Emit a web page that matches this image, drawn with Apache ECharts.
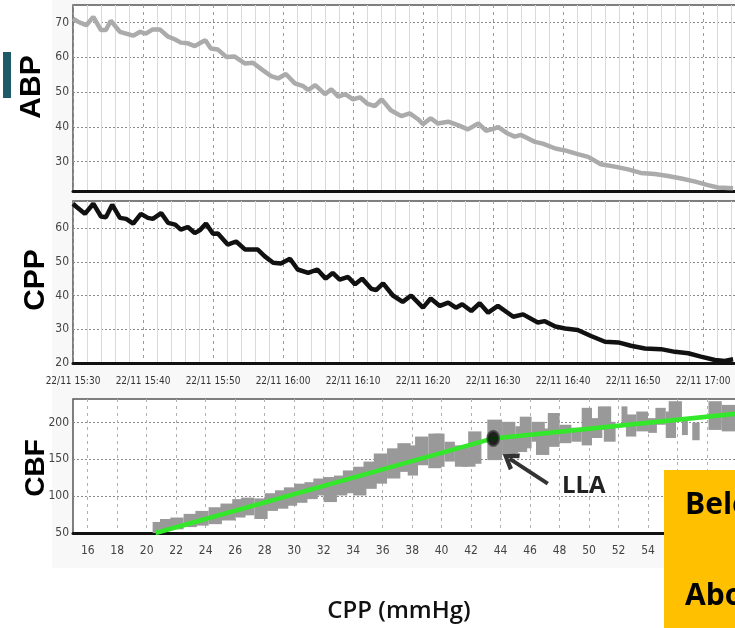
<!DOCTYPE html>
<html><head><meta charset="utf-8">
<script src="https://cdn.jsdelivr.net/npm/echarts@6/dist/echarts.min.js"></script>
<style>html,body{margin:0;padding:0;background:#fff}#c{width:735px;height:628px}</style>
</head><body><div id="c"></div><script>
// minutes after 22/11 15:30
const abpTime=[0,0.7,1.9,2.9,4.0,4.7,5.4,6.7,7.6,8.6,9.6,10.4,11.4,12.4,13.6,14.6,15.4,16.4,17.4,18.1,18.9,19.7,20.7,21.9,23.1,24.6,25.7,27.1,28.3,29.3,30.4,31.7,32.9,33.6,34.6,36.0,36.9,37.9,38.9,40.0,41.0,42.1,43.1,44.1,45.4,46.9,48.1,49.3,50.0,51.1,52.1,53.6,55.0,56.4,57.9,59.0,60.3,60.7,62.1,63.1,64.0,66.0,67.1,68.9,70.4,72.1,73.6,75.4,77.4,79.3,81.1,83.1,85.0,86.9,88.9,90.7,92.1,94.3];
const abpValue=[71.1,70.2,69.2,71.6,67.8,67.8,70.5,67.3,66.8,66.2,67.3,66.8,68.0,68.0,65.9,65.1,64.2,64.0,63.2,64.0,64.9,62.5,62.2,60.1,60.2,58.2,58.4,56.3,54.6,53.9,55.2,52.5,51.7,50.6,52.0,49.4,50.8,48.7,49.4,47.9,48.5,46.6,46.0,47.9,44.8,43.1,43.9,42.2,40.8,42.5,41.0,41.5,40.5,39.3,41.0,38.9,39.6,40.0,38.1,37.2,37.7,35.7,35.2,33.8,33.2,32.2,31.4,29.3,28.6,27.8,26.8,26.5,25.9,25.2,24.3,23.3,22.6,22.4];
const cppTime=[0,0.7,1.7,2.9,4.0,4.7,5.6,6.7,7.6,8.6,9.7,10.7,11.4,12.6,13.6,14.6,15.4,16.4,17.4,18.1,19.0,20.0,20.7,22.1,23.3,24.6,26.4,27.4,28.6,29.7,31.0,32.1,33.6,34.9,36.1,37.1,38.1,39.3,40.3,41.3,42.6,43.3,44.3,45.7,47.1,48.3,50.0,51.1,52.4,53.6,54.7,55.6,56.9,58.1,59.3,60.7,62.9,64.3,66.4,67.4,68.9,70.3,72.1,74.0,76.0,77.9,79.7,81.7,84.0,86.0,87.9,89.7,91.7,93.1,94.3];
const cppValue=[67.2,65.9,64.2,67.2,63.4,63.2,66.9,63.0,62.7,61.3,64.2,63.0,62.7,64.4,61.5,61.0,59.5,60.3,58.5,59.3,61.3,58.3,58.4,55.1,56.0,53.6,53.6,51.6,49.7,49.5,50.9,47.7,46.7,47.7,45.0,46.7,44.7,45.5,43.3,45.0,42.0,41.6,43.6,40.0,38.1,40.0,36.4,39.1,36.9,37.9,36.4,37.4,35.4,37.7,34.9,36.9,33.7,34.4,32.0,32.4,30.8,30.2,29.8,28.0,26.3,26.1,25.1,24.3,24.1,23.3,22.9,21.9,20.9,20.6,21.1];
// CBF samples: CPP range (from-to) and CBF range (low-high) of each block
const cbfCppFrom=[20.4,20.9,21.6,22.5,23.3,24.2,25.0,25.8,26.4,27.3,28.0,28.7,29.3,30.0,30.7,31.3,32.0,32.7,33.3,34.0,34.7,35.4,36.3,37.0,37.7,38.2,39.1,39.5,40.2,40.9,41.4,41.8,43.1,44.1,44.3,45.0,45.3,46.1,46.4,47.2,48.0,48.8,49.5,50.2,50.6,51.0,52.2,52.5,53.2,54.0,54.5,55.2,55.4,56.3,57.0,58.1,59.0];
const cbfCppTo=[21.1,21.7,22.5,23.4,24.2,25.1,26.0,26.7,27.3,28.2,28.9,29.6,30.2,30.9,31.6,32.2,32.9,33.6,34.2,34.9,35.6,36.3,37.2,37.9,38.4,39.1,40.0,40.2,40.9,41.8,42.3,42.7,44.1,45.0,45.2,45.8,46.1,47.0,47.3,48.0,48.8,49.5,50.2,50.9,51.5,51.8,52.6,53.2,54.0,54.6,55.2,55.9,56.3,56.7,57.5,59.0,59.9];
const cbfLow=[50,53,55,58,60,62,67,71,74,69,80,83,87,91,96,101,92,101,104,101,110,117,124,133,128,142,138,140,147,140,140,144,149,156,158,160,165,174,156,167,172,174,169,179,190,174,197,181,188,186,197,179,204,183,176,190,188];
const cbfHigh=[65,69,71,76,80,85,90,96,98,97,104,108,112,117,119,124,126,128,135,140,147,158,165,172,169,181,185,185,174,169,163,188,204,201,179,195,208,201,192,213,197,193,220,206,222,201,222,211,215,206,220,215,229,204,200,229,224];
const fitCpp=[20.6,43.5,60];
const fitCbf=[50,178.5,212];
const llaPoint=[43.5,178.5];
const arrowFrom=[47.2,117], arrowTo=[44.6,151];
const abpTicks=[30,40,50,60,70], cppTicks=[20,30,40,50,60], cbfTicks=[50,100,150,200];
const cbfXTicks=[16,18,20,22,24,26,28,30,32,34,36,38,40,42,44,46,48,50,52,54,56,58];

const zip2=(a,b)=>a.map((v,i)=>[v,b[i]]);
const narrow="'Liberation Sans Narrow','DejaVu Sans Condensed','Arial Narrow',sans-serif";
function timeLabel(v){
  if(Math.abs(v%10)>1e-6 || v>94) return '';
  const t=15*60+30+v; const h=Math.floor(t/60), m=t%60;
  return '22/11 '+h+':'+(m<10?'0':'')+m;
}
const dashedV={show:true,lineStyle:{type:[3,4],color:'#9a9a9a',width:1}};
const dottedH={show:true,lineStyle:{type:[2,2],color:'#8a8a8a',width:1}};
function timeAxis(idx,showLabel){
  return {type:'value',gridIndex:idx,min:0,max:100,interval:10,
    axisLine:{show:true,onZero:false,lineStyle:{color:'#111',width:3}},
    axisTick:{show:false},
    minorTick:{show:false,splitNumber:5},
    minorSplitLine:{show:true,lineStyle:{color:'#d9d9d9',width:1}},
    splitLine:dashedV,
    axisLabel:{show:showLabel,formatter:timeLabel,margin:13,fontFamily:narrow,fontSize:10,color:'#333'}};
}
function yAx(idx,min,max,ticks){
  return {type:'value',gridIndex:idx,min:min,max:max,
    axisLine:{show:false},
    axisTick:{show:false,customValues:ticks},
    axisLabel:{customValues:ticks,margin:4,fontFamily:narrow,fontSize:12,color:'#444'},
    splitLine:dottedH};
}
const gridBase={show:true,backgroundColor:'#fff',borderColor:'#555',borderWidth:1.5,left:73,
  outerBoundsMode:'none',containLabel:false};
const option={
  animation:false,
  grid:[
    Object.assign({},gridBase,{top:5,height:186,width:700}),
    Object.assign({},gridBase,{top:201,height:162,width:700}),
    Object.assign({},gridBase,{top:399,height:134,width:693})
  ],
  xAxis:[timeAxis(0,false),timeAxis(1,true),
    {type:'value',gridIndex:2,min:15,max:62,
      axisLine:{show:true,onZero:false,lineStyle:{color:'#111',width:3}},
      axisTick:{show:false,customValues:cbfXTicks},
      axisLabel:{customValues:cbfXTicks,margin:12,fontFamily:narrow,fontSize:12,color:'#444'},
      splitLine:{show:true,lineStyle:{type:[3,4],color:'#b0b0b0',width:1}}}],
  yAxis:[yAx(0,21.6,75,abpTicks),yAx(1,20,68,cppTicks),yAx(2,50,232,cbfTicks)],
  series:[
    {type:'line',xAxisIndex:0,yAxisIndex:0,data:zip2(abpTime,abpValue),showSymbol:false,
      lineStyle:{color:'#ababab',width:4.5},clip:true,z:3},
    {type:'line',xAxisIndex:1,yAxisIndex:1,data:zip2(cppTime,cppValue),showSymbol:false,
      lineStyle:{color:'#111',width:4.5},clip:true,z:3},
    {type:'custom',xAxisIndex:2,yAxisIndex:2,clip:true,z:2,
      data:cbfCppFrom.map((v,i)=>[v,cbfCppTo[i],cbfLow[i],cbfHigh[i]]),
      encode:{x:[0,1],y:[2,3]},
      renderItem:function(params,api){
        const p0=api.coord([api.value(0),api.value(3)]);
        const p1=api.coord([api.value(1),api.value(2)]);
        return {type:'rect',shape:{x:p0[0],y:p0[1],width:p1[0]-p0[0],height:p1[1]-p0[1]},
          style:{fill:'#999'}};
      }},
    {type:'line',xAxisIndex:2,yAxisIndex:2,data:zip2(fitCpp,fitCbf),showSymbol:false,
      lineStyle:{color:'#33e82a',width:4.5},clip:true,z:4,
      markLine:{silent:true,symbol:['none','path://M0,10 L6,0 L12,10 L9.5,11.5 L6,5 L2.5,11.5 Z'],
        symbolSize:[20,16],label:{show:false},
        lineStyle:{color:'#333',width:4,type:'solid'},
        data:[[{coord:arrowFrom},{coord:arrowTo}]]}},
    {type:'scatter',xAxisIndex:2,yAxisIndex:2,data:[llaPoint],symbol:'circle',symbolSize:[12,15],
      itemStyle:{color:'#000',borderColor:'#444',borderWidth:2},z:6}
  ],
  graphic:{elements:[
    {type:'rect',shape:{x:52,y:0,width:690,height:568},style:{fill:'#f8f8f8'},z:-100},
    {type:'rect',shape:{x:3,y:52,width:8,height:46},style:{fill:'#1e5b66'},z:50},
    {type:'text',x:31.5,y:87,rotation:Math.PI/2,z:50,
      style:{text:'ABP',font:"bold 30px 'Liberation Sans',Arial,sans-serif",fill:'#000',align:'center',verticalAlign:'middle'}},
    {type:'text',x:36,y:280,rotation:Math.PI/2,z:50,
      style:{text:'CPP',font:"bold 30px 'Liberation Sans',Arial,sans-serif",fill:'#000',align:'center',verticalAlign:'middle'}},
    {type:'text',x:36,y:468,rotation:Math.PI/2,z:50,
      style:{text:'CBF',font:"bold 28px 'Liberation Sans',Arial,sans-serif",fill:'#000',align:'center',verticalAlign:'middle'}},
    {type:'text',x:562,y:486,z:50,
      style:{text:'LLA',font:"bold 24px 'Open Sans',sans-serif",fill:'#222',align:'left',verticalAlign:'middle'}},
    {type:'text',x:399,y:611,z:50,
      style:{text:'CPP (mmHg)',font:"600 24px 'Open Sans',sans-serif",fill:'#111',align:'center',verticalAlign:'middle'}},
    {type:'rect',shape:{x:664,y:470,width:80,height:160},style:{fill:'#ffc000'},z:100},
    {type:'text',x:685,y:505,z:101,
      style:{text:'Below',font:"bold 30px 'Open Sans',sans-serif",fill:'#000',align:'left',verticalAlign:'middle'}},
    {type:'text',x:685,y:596,z:101,
      style:{text:'Above',font:"bold 30px 'Open Sans',sans-serif",fill:'#000',align:'left',verticalAlign:'middle'}}
  ]}
};
const chart=echarts.init(document.getElementById('c'),null,{renderer:'canvas'});
chart.setOption(option);
</script></body></html>
